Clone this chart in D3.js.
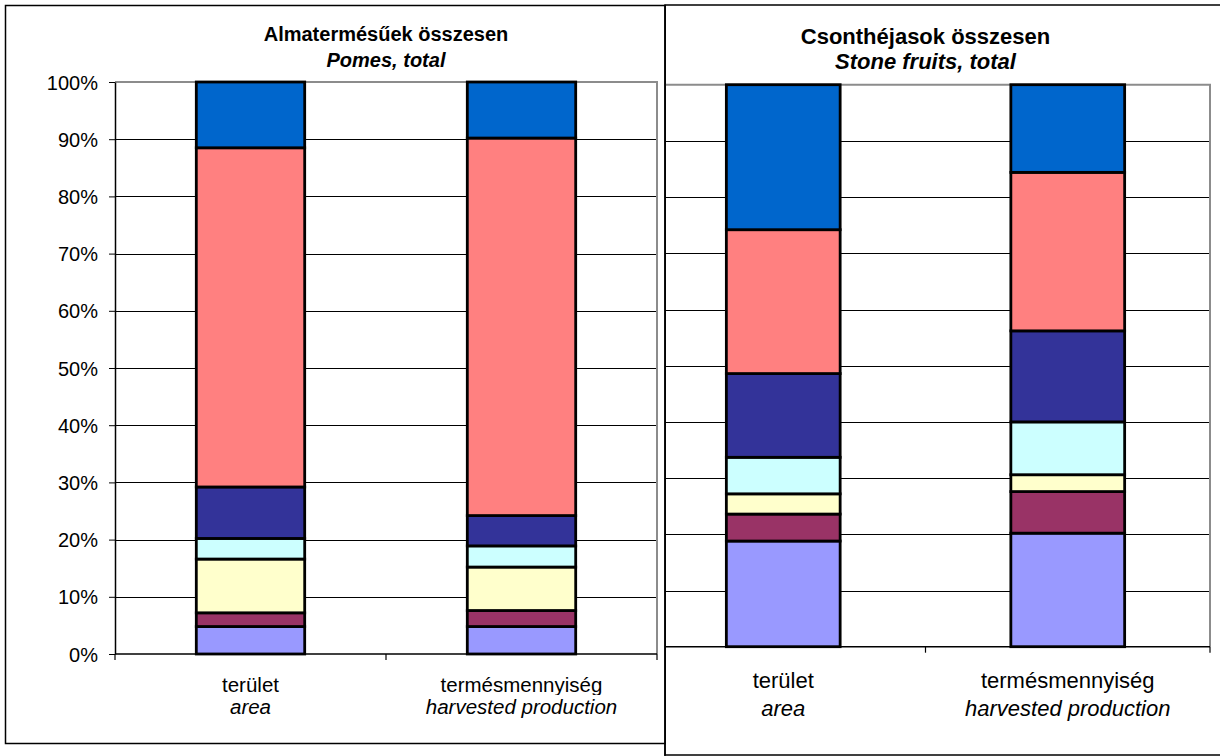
<!DOCTYPE html>
<html>
<head>
<meta charset="utf-8">
<script src="https://cdn.jsdelivr.net/npm/d3@7/dist/d3.min.js"></script>
<style>
  html, body { margin: 0; padding: 0; background: #fff; }
  svg { display: block; font-family: "Liberation Sans", Arial, sans-serif; }
</style>
</head>
<body>
<svg id="chart" width="1220" height="756"></svg>
<script>
// ---- DATA ----
const categoriesHu = ["terület", "termésmennyiség"];
const categoriesEn = ["area", "harvested production"];
const seriesNames = ["Közép-Magyarország", "Közép-Dunántúl", "Nyugat-Dunántúl", "Dél-Dunántúl", "Észak-Magyarország", "Észak-Alföld", "Dél-Alföld"];
const seriesColors = ["#9999FF", "#993366", "#FFFFCC", "#CCFFFF", "#333399", "#FF8080", "#0066CC"];
// shares (%) per series, [area, harvested production]
const pomesValues = [
  [4.8, 4.8],
  [2.4, 2.8],
  [9.4, 7.6],
  [3.6, 3.7],
  [9.0, 5.3],
  [59.3, 66.0],
  [11.5, 9.8]
];
const stoneValues = [
  [18.8, 20.2],
  [4.8, 7.4],
  [3.6, 3.0],
  [6.5, 9.4],
  [14.9, 16.2],
  [25.6, 28.2],
  [25.8, 15.6]
];
const yTicks = [0, 10, 20, 30, 40, 50, 60, 70, 80, 90, 100];
const titlesPomes = ["Almatermésűek összesen", "Pomes, total"];
const titlesStone = ["Csonthéjasok összesen", "Stone fruits, total"];

const svg = d3.select("#chart");

function buildRows(values) {
  return categoriesHu.map((c, i) => {
    const row = { cat: c };
    seriesNames.forEach((s, j) => { row[s] = values[j][i]; });
    return row;
  });
}

function drawChart(g, cfg) {
  const x = d3.scaleBand().domain(categoriesHu).range([cfg.x0, cfg.x1]).padding(0);
  const y = d3.scaleLinear().domain([0, 100]).range([cfg.y0, cfg.y1]);
  const bw = x.bandwidth() * 0.4;

  const plot = g.append("g");
  if (cfg.clipId) plot.attr("clip-path", `url(#${cfg.clipId})`);

  // gridlines
  plot.selectAll("line.grid").data(yTicks.filter(t => t > 0 && t < 100)).join("line")
    .attr("x1", cfg.x0).attr("x2", cfg.x1)
    .attr("y1", d => Math.round(y(d)) + 0.5).attr("y2", d => Math.round(y(d)) + 0.5)
    .attr("stroke", "#000").attr("stroke-width", 1);

  // plot border top/right (gray)
  plot.append("path")
    .attr("d", `M${cfg.x0},${y(100)}H${cfg.x1}V${y(0)}`)
    .attr("fill", "none").attr("stroke", "#8c8c8c").attr("stroke-width", 2);

  // stacked bars
  const stack = d3.stack().keys(seriesNames)(buildRows(cfg.values));
  stack.forEach((layer, j) => {
    plot.selectAll(null).data(layer).join("rect")
      .attr("x", d => x(d.data.cat) + (x.bandwidth() - bw) / 2)
      .attr("width", bw)
      .attr("y", d => y(d[1]))
      .attr("height", d => y(d[0]) - y(d[1]))
      .attr("fill", seriesColors[j])
      .attr("stroke", "#000").attr("stroke-width", 2.8);
  });

  // x axis
  const xAxisG = plot.append("g");
  xAxisG.append("line").attr("x1", cfg.x0).attr("x2", cfg.x1)
    .attr("y1", y(0)).attr("y2", y(0)).attr("stroke", "#000").attr("stroke-width", 1.5);
  const bounds = [cfg.x0, ...categoriesHu.map(c => x(c) + x.bandwidth())];
  xAxisG.selectAll("line.tk").data(bounds).join("line")
    .attr("x1", d => d).attr("x2", d => d)
    .attr("y1", y(0)).attr("y2", y(0) + 6)
    .attr("stroke", "#000").attr("stroke-width", 1.2);

  // y axis
  if (cfg.showY) {
    const yAxis = d3.axisLeft(y).tickValues(yTicks).tickFormat(d => d + "%").tickSize(6).tickSizeOuter(0);
    const ya = g.append("g").attr("transform", `translate(${cfg.x0},0)`).call(yAxis);
    ya.select(".domain").attr("stroke", "#000").attr("stroke-width", 1.5);
    ya.selectAll(".tick line").attr("stroke", "#000");
    ya.selectAll(".tick text").attr("font-size", cfg.tickFont).attr("fill", "#000")
      .attr("x", -17).attr("dy", "0.35em").attr("font-family", "Liberation Sans, Arial, sans-serif");
  } else {
    plot.append("line").attr("x1", cfg.x0).attr("x2", cfg.x0)
      .attr("y1", y(100)).attr("y2", y(0)).attr("stroke", "#000");
  }

  // category labels
  categoriesHu.forEach((c, i) => {
    const cx = x(c) + x.bandwidth() / 2;
    g.append("text").attr("x", cx).attr("y", cfg.labY1).attr("text-anchor", "middle")
      .attr("font-size", cfg.labFont).text(c);
    if (cfg.coverDesc) {
      g.append("rect").attr("x", cx - 115).attr("y", cfg.labY1 + 3).attr("width", 230).attr("height", 24).attr("fill", "#fff");
    }
    g.append("text").attr("x", cx).attr("y", cfg.labY2).attr("text-anchor", "middle")
      .attr("font-size", cfg.labFont).attr("font-style", "italic").text(categoriesEn[i]);
  });

  // titles
  const tcx = (cfg.x0 + cfg.x1) / 2;
  g.append("text").attr("x", tcx).attr("y", cfg.titleY1).attr("text-anchor", "middle")
    .attr("font-size", cfg.titleFont).attr("font-weight", "bold").text(cfg.titles[0]);
  g.append("text").attr("x", tcx).attr("y", cfg.titleY2).attr("text-anchor", "middle")
    .attr("font-size", cfg.titleFont).attr("font-weight", "bold").attr("font-style", "italic").text(cfg.titles[1]);
}

// clip for right chart
svg.append("defs").append("clipPath").attr("id", "rclip")
  .append("rect").attr("x", 665).attr("y", 0).attr("width", 600).attr("height", 756);

// right panel
const right = svg.append("g");
right.append("rect").attr("x", 665).attr("y", 5).attr("width", 600).attr("height", 750)
  .attr("fill", "#fff").attr("stroke", "#000").attr("stroke-width", 1.5);
drawChart(right, {
  x0: 641, x1: 1210, y0: 646.7, y1: 84.7, values: stoneValues, showY: false, clipId: "rclip",
  titles: titlesStone, titleY1: 44, titleY2: 69, titleFont: 22,
  labY1: 688, labY2: 716, labFont: 22, tickFont: 20, coverDesc: false
});

// left panel
const left = svg.append("g");
left.append("rect").attr("x", 5.5).attr("y", 5.5).attr("width", 659.5).attr("height", 738)
  .attr("fill", "#fff").attr("stroke", "#000").attr("stroke-width", 1.5);
drawChart(left, {
  x0: 115, x1: 657, y0: 654, y1: 82, values: pomesValues, showY: true,
  titles: titlesPomes, titleY1: 41, titleY2: 67, titleFont: 20,
  labY1: 692, labY2: 714, labFont: 20.5, tickFont: 20, coverDesc: true
});
// separating line over both panels
svg.append("line").attr("x1", 665).attr("x2", 665).attr("y1", 5).attr("y2", 756)
  .attr("stroke", "#000").attr("stroke-width", 1.5);
</script>
</body>
</html>
